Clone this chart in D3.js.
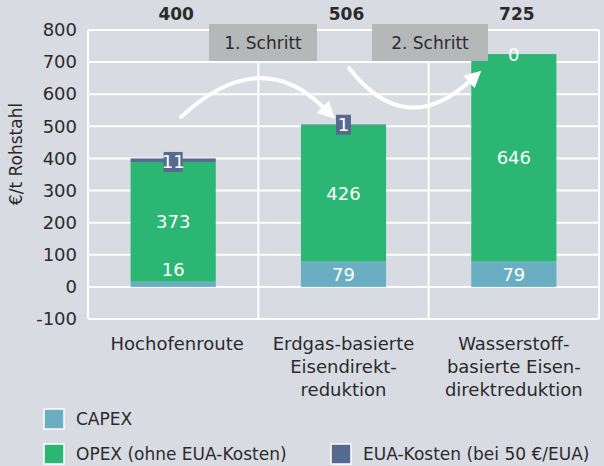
<!DOCTYPE html>
<html>
<head>
<meta charset="utf-8">
<script src="https://cdn.jsdelivr.net/npm/d3@7"></script>
<style>
  html, body { margin: 0; padding: 0; background: #d8dbe2; }
  svg { display: block; font-family: "DejaVu Sans", sans-serif; }
</style>
</head>
<body>
<div id="chart"></div>
<script>
// data
const categories = [
  ["Hochofenroute"],
  ["Erdgas-basierte", "Eisendirekt-", "reduktion"],
  ["Wasserstoff-", "basierte Eisen-", "direktreduktion"]
];
const capex = [16, 79, 79];
const opex = [373, 426, 646];
const eua = [11, 1, 0];
const totals = [400, 506, 725];
const yTicks = [-100, 0, 100, 200, 300, 400, 500, 600, 700, 800];
const steps = ["1. Schritt", "2. Schritt"];
const seriesNames = ["CAPEX", "OPEX (ohne EUA-Kosten)", "EUA-Kosten (bei 50 €/EUA)"];

const colors = ["#6aaec4", "#2bb673", "#56698f"];
const textColor = "#2b2b2b";

const width = 604, height = 466;
const plot = { left: 88, right: 599, top: 30, bottom: 319 };

const svg = d3.select("#chart").append("svg")
  .attr("width", width)
  .attr("height", height);

const x = d3.scaleBand()
  .domain(d3.range(categories.length))
  .range([plot.left, plot.right])
  .padding(0.5)
  .paddingOuter(0.25);

const y = d3.scaleLinear()
  .domain([-100, 800])
  .range([plot.bottom, plot.top]);

// grid (white lines, horizontal + vertical band separators)
const grid = svg.append("g");
grid.selectAll(".h")
  .data(yTicks)
  .enter().append("line")
  .attr("x1", plot.left).attr("x2", plot.right)
  .attr("y1", d => y(d)).attr("y2", d => y(d))
  .attr("stroke", "#fff").attr("stroke-width", 2);

const bandEdges = d3.range(categories.length + 1).map(i => plot.left + i * (plot.right - plot.left) / categories.length);
grid.selectAll(".v")
  .data(bandEdges)
  .enter().append("line")
  .attr("x1", d => d).attr("x2", d => d)
  .attr("y1", plot.top).attr("y2", plot.bottom)
  .attr("stroke", "#fff").attr("stroke-width", 2);

// y axis (plain hyphen for negatives, like the original)
const yAxis = svg.append("g")
  .attr("transform", `translate(${plot.left - 11},0)`)
  .call(d3.axisLeft(y).tickValues(yTicks).tickSize(0).tickPadding(0).tickFormat(d => String(d)));
yAxis.select(".domain").remove();
yAxis.selectAll("text")
  .attr("fill", textColor)
  .style("font-size", "18px")
  .style("font-family", "DejaVu Sans, sans-serif");

svg.append("text")
  .attr("transform", `translate(22,154) rotate(-90)`)
  .attr("text-anchor", "middle")
  .attr("fill", textColor)
  .style("font-size", "17px")
  .text("€/t Rohstahl");

// stacked bars
const rows = categories.map((c, i) => ({ i, capex: capex[i], opex: opex[i], eua: eua[i] }));
const stack = d3.stack().keys(["capex", "opex", "eua"]);
const layers = stack(rows);

const bars = svg.append("g");
layers.forEach((layer, k) => {
  bars.selectAll(".s" + k)
    .data(layer)
    .enter().append("rect")
    .attr("x", d => x(d.data.i))
    .attr("width", x.bandwidth())
    .attr("y", d => y(d[1]))
    .attr("height", d => y(d[0]) - y(d[1]))
    .attr("fill", colors[k]);
});

// segment labels
const labels = svg.append("g")
  .attr("fill", "#fff")
  .attr("text-anchor", "middle")
  .style("font-size", "18px");

layers[0].forEach(d => {
  const h = y(d[0]) - y(d[1]);
  const cy = h < 20 ? y(0) - 17 : (y(d[0]) + y(d[1])) / 2;
  labels.append("text")
    .attr("x", x(d.data.i) + x.bandwidth() / 2)
    .attr("y", cy).attr("dy", "0.36em")
    .text(d.data.capex);
});
layers[1].forEach(d => {
  labels.append("text")
    .attr("x", x(d.data.i) + x.bandwidth() / 2)
    .attr("y", (y(d[0]) + y(d[1])) / 2).attr("dy", "0.36em")
    .text(d.data.opex);
});
layers[2].forEach(d => {
  const cx = x(d.data.i) + x.bandwidth() / 2;
  const cy = y(d[0]);
  const g = labels.append("g");
  if (d.data.eua > 0) {
    const w = String(d.data.eua).length > 1 ? 19 : 15;
    g.append("rect")
      .attr("x", cx - w / 2).attr("y", cy - 10)
      .attr("width", w).attr("height", 20)
      .attr("fill", colors[2]);
  }
  g.append("text")
    .attr("x", cx).attr("y", cy).attr("dy", "0.36em")
    .text(d.data.eua);
});

// totals
svg.append("g").selectAll("text")
  .data(totals)
  .enter().append("text")
  .attr("x", (d, i) => x(i) + x.bandwidth() / 2 + 3)
  .attr("y", 14).attr("dy", "0.36em")
  .attr("text-anchor", "middle")
  .attr("fill", textColor)
  .style("font-size", "17px")
  .style("font-weight", "bold")
  .text(d => d);

// category labels
const cat = svg.append("g")
  .attr("fill", textColor)
  .attr("text-anchor", "middle")
  .style("font-size", "18px");
categories.forEach((lines, i) => {
  const cx = x(i) + x.bandwidth() / 2 + (i === 0 ? 4 : 0);
  const t = cat.append("text")
    .attr("x", cx)
    .attr("y", 344);
  lines.forEach((l, j) => {
    t.append("tspan")
      .attr("x", cx)
      .attr("dy", j === 0 ? "0.36em" : 23)
      .text(l);
  });
});

// arrows
const defs = svg.append("defs");
defs.append("marker")
  .attr("id", "head")
  .attr("viewBox", "0 0 10 10")
  .attr("refX", 1).attr("refY", 5)
  .attr("markerUnits", "userSpaceOnUse")
  .attr("markerWidth", 17).attr("markerHeight", 17)
  .attr("orient", "auto")
  .append("path")
  .attr("d", "M0,0 L10,5 L0,10 z")
  .attr("fill", "#fff");

const arrows = [
  "M181,117 Q260,44 324,108",
  "M349,68 Q405,140 470,81"
];
svg.append("g").selectAll("path")
  .data(arrows)
  .enter().append("path")
  .attr("d", d => d)
  .attr("fill", "none")
  .attr("stroke", "#fff")
  .attr("stroke-width", 4)
  .attr("stroke-linecap", "round")
  .attr("marker-end", "url(#head)");

// step boxes
const boxes = [{ x0: 209, x1: 317 }, { x0: 372, x1: 488 }];
const stepG = svg.append("g");
steps.forEach((s, i) => {
  stepG.append("rect")
    .attr("x", boxes[i].x0).attr("y", 24)
    .attr("width", boxes[i].x1 - boxes[i].x0).attr("height", 37)
    .attr("fill", "#b5b8b9");
  stepG.append("text")
    .attr("x", (boxes[i].x0 + boxes[i].x1) / 2)
    .attr("y", 43).attr("dy", "0.36em")
    .attr("text-anchor", "middle")
    .attr("fill", textColor)
    .style("font-size", "17px")
    .text(s);
});

// legend
const legendItems = [
  { x: 43, y: 408 },
  { x: 43, y: 443 },
  { x: 330, y: 443 }
];
const legend = svg.append("g");
seriesNames.forEach((name, i) => {
  const p = legendItems[i];
  legend.append("rect")
    .attr("x", p.x + 1).attr("y", p.y + 1)
    .attr("width", 20).attr("height", 20)
    .attr("fill", colors[i])
    .attr("stroke", "#fff").attr("stroke-width", 1.5);
  legend.append("text")
    .attr("x", p.x + 33).attr("y", p.y + 11).attr("dy", "0.36em")
    .attr("fill", textColor)
    .style("font-size", "17px")
    .text(name);
});
</script>
</body>
</html>
